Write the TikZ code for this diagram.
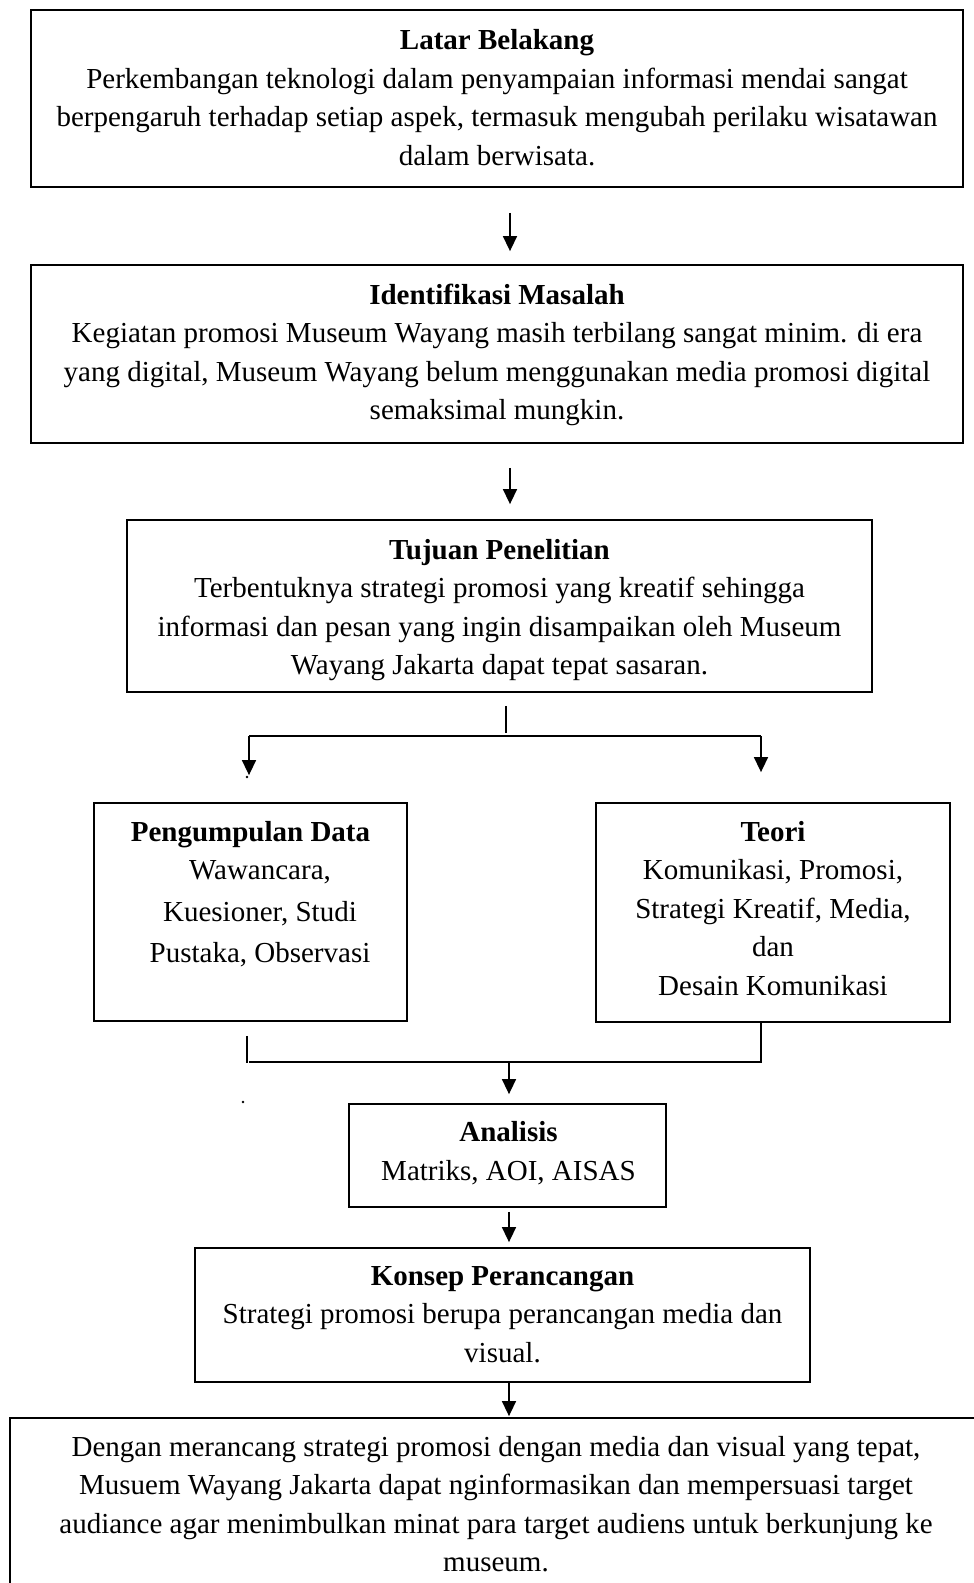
\documentclass[tikz,border=0pt]{standalone}
\usepackage{fontspec}
\setmainfont{Liberation Serif}
\usetikzlibrary{arrows.meta}
\newcommand\myfl{\rule{0pt}{24pt}}
\begin{document}
\begin{tikzpicture}[x=1pt,y=1pt,
  box/.style={draw, line width=1.8pt, rectangle, inner sep=0pt},
  txt/.style={anchor=north, inner sep=0pt, align=center, font=\fontsize{29}{38.5}\selectfont},
  conn/.style={line width=1.5pt},
  arr/.style={conn, -{Triangle[width=14pt,length=15pt]}}]
\useasboundingbox (0,0) rectangle (974,-1583);
\clip (0,0) rectangle (974,-1583);

% boxes
\node[box, minimum width=932pt, minimum height=177pt] (lb) at (497,-98.5) {};
\node[txt] (lbt) at (497,-25.5) {\myfl\textbf{Latar Belakang}\\
Perkembangan teknologi dalam penyampaian informasi mendai sangat\\
berpengaruh terhadap setiap aspek, termasuk mengubah perilaku wisatawan\\
dalam berwisata.};

\node[box, minimum width=932pt, minimum height=178pt] (im) at (497,-354) {};
\node[txt] (imt) at (497,-280) {\myfl\textbf{Identifikasi Masalah}\\
Kegiatan promosi Museum Wayang masih terbilang sangat minim. di era\\
yang digital, Museum Wayang belum menggunakan media promosi digital\\
semaksimal mungkin.};

\node[box, minimum width=745pt, minimum height=172pt] (tp) at (499.5,-606) {};
\node[txt] (tpt) at (499.5,-535) {\myfl\textbf{Tujuan Penelitian}\\
Terbentuknya strategi promosi yang kreatif sehingga\\
informasi dan pesan yang ingin disampaikan oleh Museum\\
Wayang Jakarta dapat tepat sasaran.};

\node[box, minimum width=313pt, minimum height=218pt] (pd) at (250.5,-912) {};
\node[txt] (pdt) at (250.5,-817) {\myfl\textbf{Pengumpulan Data}\\
\hspace*{19pt}Wawancara,\\[3pt]
\hspace*{19pt}Kuesioner, Studi\\[3pt]
\hspace*{19pt}Pustaka, Observasi};

\node[box, minimum width=354pt, minimum height=219pt] (te) at (773,-912.5) {};
\node[txt] (tet) at (773,-817) {\myfl\textbf{Teori}\\
Komunikasi, Promosi,\\
Strategi Kreatif, Media,\\
dan\\
Desain Komunikasi};

\node[box, minimum width=317pt, minimum height=103pt] (an) at (507.5,-1155.5) {};
\node[txt] (ant) at (508.5,-1117.5) {\myfl\textbf{Analisis}\\
Matriks, AOI, AISAS};

\node[box, minimum width=615pt, minimum height=134pt] (kp) at (502.5,-1315) {};
\node[txt] (kpt) at (502.5,-1261) {\myfl\textbf{Konsep Perancangan}\\
Strategi promosi berupa perancangan media dan\\
visual.};

\node[box, minimum width=975pt, minimum height=202pt] (bt) at (497.5,-1519) {};
\node[txt] (btt) at (496,-1432) {\myfl Dengan merancang strategi promosi dengan media dan visual yang tepat,\\
Musuem Wayang Jakarta dapat nginformasikan dan mempersuasi target\\
audiance agar menimbulkan minat para target audiens untuk berkunjung ke\\
museum.};

% helper coordinates
\coordinate (ax) at (510,0);
\coordinate (sp) at (506,-736);
\coordinate (hl) at (249,-736);
\coordinate (hr) at (761,-736);
\coordinate (ml) at (249,-1062);
\coordinate (mr) at (761,-1062);
\coordinate (mc) at (509,-1062);
\coordinate (ls) at (247,-1063);

% connectors
\draw[arr, shorten <=25pt, shorten >=13pt] (lb.south -| ax) -- (im.north -| ax);
\draw[arr, shorten <=24pt, shorten >=15pt] (im.south -| ax) -- (tp.north -| ax);
\draw[conn, shorten <=13pt, shorten >=3pt] (tp.south -| sp) -- (sp);
\draw[conn] (hl) -- (hr);
\draw[arr, shorten >=27pt] (hl) -- (hl |- pd.north);
\draw[arr, shorten >=30pt] (hr) -- (hr |- te.north);
\draw[conn] (te.south -| mr) -- (mr) -- (ml);
\draw[conn, shorten <=14pt] (pd.south -| ls) -- (ls);
\draw[arr, shorten >=9pt] (mc) -- (mc |- an.north);
\draw[arr, shorten <=4pt, shorten >=5pt] (an.south -| mc) -- (kp.north -| mc);
\draw[arr, shorten >=1pt] (kp.south -| mc) -- (bt.north -| mc);

% stray dots
\fill (247,-777) circle (1.3pt);
\fill (243,-1102) circle (1.3pt);
\end{tikzpicture}
\end{document}
